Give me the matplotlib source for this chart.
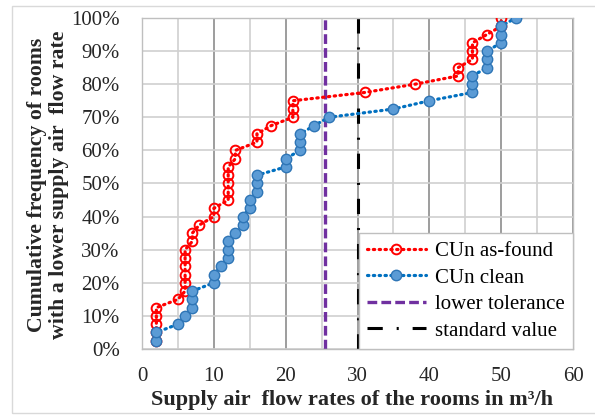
import matplotlib
matplotlib.use("Agg")
import matplotlib.pyplot as plt
from matplotlib.patches import Rectangle
from matplotlib.ticker import FuncFormatter, MultipleLocator

plt.rcParams['font.family'] = ['Liberation Serif', 'DejaVu Serif']
plt.rcParams['lines.scale_dashes'] = False

# Data
cum_freq = [2.5, 5.0, 7.5, 10.0, 12.5, 15.0, 17.5, 20.0, 22.5, 25.0,
            27.5, 30.0, 32.5, 35.0, 37.5, 40.0, 42.5, 45.0, 47.5, 50.0,
            52.5, 55.0, 57.5, 60.0, 62.5, 65.0, 67.5, 70.0, 72.5, 75.0,
            77.5, 80.0, 82.5, 85.0, 87.5, 90.0, 92.5, 95.0, 97.5, 100.0]
as_found_x = [2, 2, 2, 2, 2, 5, 6, 6, 6, 6, 6, 6, 7, 7, 8, 10, 10, 12, 12, 12,
              12, 12, 13, 13, 16, 16, 18, 21, 21, 21, 31, 38, 44, 44, 46, 46, 46, 48, 50, 50]
clean_x = [2, 2, 5, 6, 7, 7, 7, 10, 10, 11, 12, 12, 12, 13, 14, 14, 15, 15, 16, 16,
           16, 20, 20, 22, 22, 22, 24, 26, 35, 40, 46, 46, 46, 48, 48, 48, 50, 50, 50, 52]
lower_tolerance = 25.5
standard_value = 30
x_title = "Supply air  flow rates of the rooms in m³/h"
y_title = "Cumulative frequency of rooms\nwith a lower supply air  flow rate"

W, H = 595, 419
fig = plt.figure(figsize=(W/100, H/100), dpi=100)
fig.patches.append(Rectangle((12/W, 1-413/H), 1.2, 407/H, transform=fig.transFigure,
                             fill=False, edgecolor='#d9d9d9', lw=1))
ax = fig.add_axes([142/W, 1-349/H, 431/W, 331/H])

ax.set_xlim(0, 60)
ax.set_ylim(0, 100)
ax.xaxis.set_major_locator(MultipleLocator(10))
ax.xaxis.set_minor_locator(MultipleLocator(5))
ax.yaxis.set_major_locator(MultipleLocator(10))
ax.yaxis.set_major_formatter(FuncFormatter(lambda v, p: f"{int(round(v))}%"))

ax.grid(True, which='major', axis='x', color='#8c8c8c', lw=1.2, zorder=0)
ax.grid(True, which='minor', axis='x', color='#d0d0d0', lw=1.2, zorder=0)
ax.grid(True, which='major', axis='y', color='#d0d0d0', lw=1.2, zorder=0)
ax.set_axisbelow(True)
for s in ax.spines.values():
    s.set_color('#bfbfbf')
    s.set_linewidth(1)
ax.tick_params(which='both', length=0, labelsize=15, colors='#262626')
ax.tick_params(axis='y', pad=16)
ax.tick_params(axis='x', pad=13)

ax.plot(as_found_x, cum_freq, linestyle=(0, (1, 3.2)), dash_capstyle='round', lw=2.3,
        color='#ff0000', marker='o', markersize=7, markerfacecolor='none',
        markeredgecolor='#ff0000', markeredgewidth=1.4, label='CUn as-found', zorder=3)
ax.plot(clean_x, cum_freq, linestyle=(0, (1, 3.2)), dash_capstyle='round', lw=2.3,
        color='#0070c0', marker='o', markersize=7.5, markerfacecolor='#5b9bd5',
        markeredgecolor='#2e75b6', markeredgewidth=1.0, label='CUn clean', zorder=4)
ax.axvline(lower_tolerance, color='#7030a0', lw=2.4, dashes=(7, 3), label='lower tolerance', zorder=2)
ax.axvline(standard_value, color='black', lw=2.2, dashes=(11, 10, 1.5, 10), label='standard value', zorder=2)

leg = ax.legend(loc='lower right', bbox_to_anchor=(1.0, 0.0), fontsize=15, frameon=True,
                fancybox=False, edgecolor='#bfbfbf', framealpha=1, borderaxespad=0,
                handlelength=2.8, handletextpad=0.45, labelspacing=0.33, borderpad=0.4)
leg.get_frame().set_linewidth(1)
leg.set_zorder(10)

xt = fig.text(352/W, 1-400/H, x_title, ha='center', va='center', fontsize=15,
              fontweight='bold', color='#262626')
yt = fig.text(48/W, 1-185/H, y_title, ha='center', va='center', rotation=90, fontsize=14,
              fontweight='bold', color='#262626', linespacing=1.15, multialignment='center')

def fit(t, target, vertical=False):
    for _ in range(3):
        fig.canvas.draw()
        bb = t.get_window_extent()
        cur = bb.height if vertical else bb.width
        t.set_fontsize(t.get_fontsize() * target / cur)

fit(xt, 403)
fit(yt, 307, vertical=True)

fig.savefig("out.png", dpi=100)
